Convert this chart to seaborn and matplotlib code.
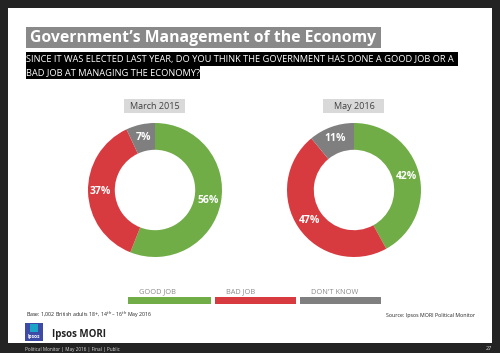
"""Ipsos MORI slide: two donut charts of the government's economic management rating."""
import matplotlib
matplotlib.use("Agg")
import matplotlib.pyplot as plt
import matplotlib.patches as mpatches
import seaborn as sns

W, H = 500, 353

PERIODS = ["March 2015", "May 2016"]
CATEGORIES = ["GOOD JOB", "BAD JOB", "DON'T KNOW"]
MARCH_2015 = [56, 37, 7]
MAY_2016 = [42, 47, 11]
COLOURS = ["#70ad47", "#d83b3f", "#7f7f7f"]

TITLE = "Government\u2019s Management of the Economy"
QUESTION = [
    "SINCE IT WAS ELECTED LAST YEAR, DO YOU THINK THE GOVERNMENT HAS DONE A GOOD JOB OR A",
    "BAD JOB AT MANAGING THE ECONOMY?",
]
BASE = "Base: 1,002 British adults 18+, 14$^{th}$ \u2013 16$^{th}$ May 2016"
SOURCE = "Source: Ipsos MORI Political Monitor"
FOOTER = "Political Monitor | May 2016 | Final | Public"


def _box(fig, x0, y0, x1, y1, color, **kw):
    # pixel coords, y measured from the top
    fig.patches.append(mpatches.Rectangle(
        (x0 / W, 1 - y1 / H), (x1 - x0) / W, (y1 - y0) / H,
        transform=fig.transFigure, facecolor=color, edgecolor="none", zorder=-1, **kw))


def _text(fig, x, y, s, **kw):
    fig.text(x / W, 1 - y / H, s, **kw)


def _donut(fig, cx, cy, r, values, period):
    ax = fig.add_axes([(cx - r) / W, 1 - (cy + r) / H, 2 * r / W, 2 * r / H])
    ax.set_zorder(2)
    ax.pie(
        values, colors=COLOURS, startangle=90, counterclock=False,
        wedgeprops=dict(width=0.4, edgecolor="none"),
        autopct="%d%%", pctdistance=0.81,
        textprops=dict(color="white", fontsize=7.5, fontweight="bold"),
    )
    ax.set_xlim(-1, 1)
    ax.set_ylim(-1, 1)
    ax.set_aspect("equal")
    ax.axis("off")
    _box(fig, cx - 31, 99, cx + 30, 113, "#d9d9d9")
    _text(fig, cx, 106.5, period, ha="center", va="center", fontsize=6.5, color="#404040")


def main():
    sns.set_theme(style="white")
    plt.rcParams["font.family"] = ["Open Sans", "DejaVu Sans"]

    fig = plt.figure(figsize=(W / 100, H / 100), dpi=100, facecolor="#232323")
    _box(fig, 8, 8, 492, 343, "white")

    # heading
    _box(fig, 26, 27, 381, 48, "#898989")
    _text(fig, 30, 38, TITLE, ha="left", va="center", fontsize=11.3,
          fontweight="bold", color="white")
    _box(fig, 26, 52, 458, 66, "black")
    _box(fig, 26, 66, 200, 79, "black")
    _text(fig, 26.5, 59.5, QUESTION[0], ha="left", va="center", fontsize=6.7, color="white")
    _text(fig, 26.5, 72.5, QUESTION[1], ha="left", va="center", fontsize=6.7, color="white")

    _donut(fig, 155, 190, 67, MARCH_2015, PERIODS[0])
    _donut(fig, 354, 190, 67, MAY_2016, PERIODS[1])

    # legend strip
    spans = [(128, 211), (215, 296), (300, 381)]
    for (x0, x1), label, colour in zip(spans, CATEGORIES, COLOURS):
        _box(fig, x0, 297, x1, 304, colour)
        _text(fig, x0 + 11, 292, label, ha="left", va="center", fontsize=5.3, color="#8c8c8c")

    _text(fig, 26, 315, BASE, ha="left", va="center", fontsize=3.8, color="#222222")
    _text(fig, 475, 315, SOURCE, ha="right", va="center", fontsize=3.8, color="#222222")

    # logo
    _box(fig, 25, 323, 43, 341, "#3d4ba6")
    _box(fig, 30, 324, 38, 332, "#1aa5c8")
    _text(fig, 34, 336.5, "Ipsos", ha="center", va="center", fontsize=3.5,
          color="white", fontweight="bold")
    _text(fig, 52, 334, "Ipsos MORI", ha="left", va="center", fontsize=7,
          fontweight="bold", color="#222222")

    _text(fig, 25, 349, FOOTER, ha="left", va="center", fontsize=3.3, color="#dddddd")
    _text(fig, 492, 349, "27", ha="right", va="center", fontsize=4, color="#dddddd")

    fig.savefig("out.png", dpi=100, facecolor=fig.get_facecolor())


if __name__ == "__main__":
    main()
